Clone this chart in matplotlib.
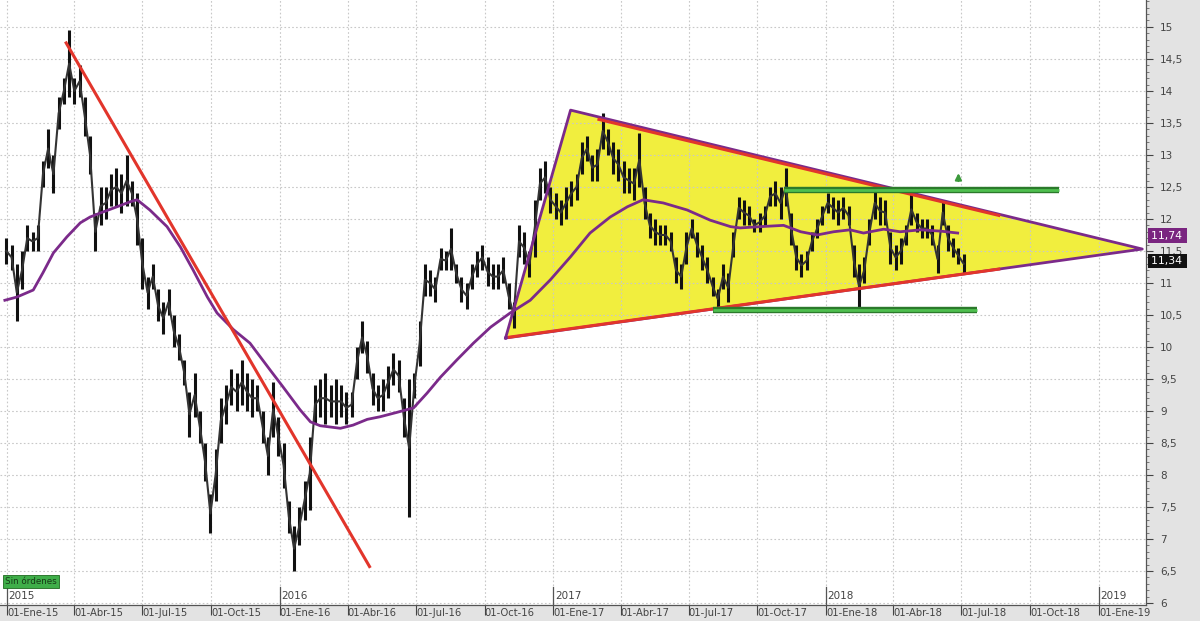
import numpy as np
import pandas as pd
import matplotlib
matplotlib.use('Agg')
import matplotlib.pyplot as plt
from matplotlib.ticker import MultipleLocator, FuncFormatter

# weekly price ranges (low / high), first week starts 29-Dec-2014
first_week = '2014-12-29'
week_lows = [11.3, 11.2, 10.4, 10.9, 11.5, 11.5, 11.5, 12.5, 12.8, 12.4,
             13.4, 13.8, 13.9, 13.8, 13.9, 13.3, 12.7, 11.5, 11.9, 12.0,
             12.2, 12.2, 12.1, 12.2, 12.2, 11.6, 10.9, 10.6, 10.9, 10.4,
             10.2, 10.5, 10.0, 9.8, 9.4, 8.6, 8.9, 8.5, 7.9, 7.1,
             7.6, 8.5, 8.8, 9.1, 9.0, 9.1, 9.0, 8.9, 9.0, 8.5,
             8.0, 8.6, 8.3, 7.8, 7.1, 6.5, 6.9, 7.3, 7.45, 8.8,
             8.9, 8.8, 8.9, 8.8, 8.9, 8.8, 8.9, 9.5, 9.9, 9.6,
             9.1, 9.0, 9.0, 9.2, 9.4, 9.3, 8.6, 7.35, 9.2, 9.7,
             10.8, 10.8, 10.7, 11.2, 11.2, 11.2, 11.0, 10.7, 10.6, 10.9,
             11.1, 11.2, 10.95, 10.9, 10.9, 11.0, 10.6, 10.3, 11.4, 11.3,
             11.1, 11.4, 12.3, 12.4, 12.1, 12.0, 11.9, 12.0, 12.2, 12.3,
             12.7, 12.9, 12.6, 12.6, 13.1, 13.0, 12.7, 12.6, 12.4, 12.4,
             12.3, 12.5, 12.0, 11.7, 11.6, 11.6, 11.6, 11.5, 11.0, 10.9,
             11.3, 11.7, 11.4, 11.2, 11.0, 10.8, 10.6, 10.9, 10.7, 11.4,
             12.0, 11.9, 11.9, 11.8, 11.8, 11.9, 12.2, 12.2, 12.0, 12.2,
             11.6, 11.2, 11.1, 11.2, 11.5, 11.7, 11.9, 12.1, 12.0, 11.9,
             12.0, 11.9, 11.1, 10.6, 11.0, 11.6, 12.0, 11.9, 11.9, 11.3,
             11.2, 11.3, 11.6, 11.9, 11.8, 11.7, 11.7, 11.6, 11.15, 11.9,
             11.5, 11.4, 11.3, 11.15]
week_highs = [11.7, 11.6, 11.3, 11.5, 11.9, 11.8, 11.9, 12.9, 13.4, 13.0,
              13.9, 14.2, 14.95, 14.2, 14.4, 13.9, 13.3, 12.1, 12.5, 12.5,
              12.7, 12.8, 12.7, 13.0, 12.6, 12.4, 11.7, 11.1, 11.3, 10.9,
              10.7, 10.9, 10.5, 10.2, 9.8, 9.3, 9.6, 9.0, 8.5, 7.7,
              8.4, 9.2, 9.4, 9.65, 9.6, 9.8, 9.6, 9.5, 9.4, 9.0,
              8.6, 9.45, 8.9, 8.5, 7.6, 7.2, 7.5, 7.9, 8.6, 9.4,
              9.5, 9.6, 9.4, 9.5, 9.4, 9.3, 9.3, 10.0, 10.4, 10.1,
              9.6, 9.4, 9.5, 9.7, 9.9, 9.8, 9.2, 9.5, 9.6, 10.4,
              11.3, 11.2, 11.1, 11.55, 11.5, 11.86, 11.3, 11.1, 11.0, 11.3,
              11.5, 11.6, 11.4, 11.3, 11.3, 11.4, 11.0, 10.7, 11.9, 11.8,
              11.5, 12.3, 12.8, 12.9, 12.5, 12.4, 12.3, 12.5, 12.6, 12.7,
              13.2, 13.3, 13.0, 13.1, 13.65, 13.4, 13.2, 13.1, 12.9, 12.8,
              12.8, 13.35, 12.5, 12.1, 12.0, 11.9, 11.9, 11.8, 11.4, 11.3,
              11.8, 12.0, 11.8, 11.6, 11.4, 11.1, 10.9, 11.3, 11.15, 11.8,
              12.35, 12.3, 12.2, 12.0, 12.1, 12.2, 12.5, 12.6, 12.5, 12.8,
              12.1, 11.6, 11.45, 11.5, 11.8, 12.0, 12.2, 12.4, 12.35, 12.3,
              12.35, 12.2, 11.6, 11.3, 11.4, 12.0, 12.5, 12.35, 12.3, 11.8,
              11.6, 11.7, 11.9, 12.4, 12.1, 12.0, 12.0, 11.9, 11.6, 12.3,
              11.9, 11.7, 11.55, 11.45]

# moving average
ma_dates = ['2014-12-29', '2015-01-14', '2015-02-05', '2015-02-18', '2015-03-04',
            '2015-03-22', '2015-04-09', '2015-04-22', '2015-05-05', '2015-05-28',
            '2015-06-15', '2015-06-24', '2015-07-11', '2015-08-03', '2015-08-21',
            '2015-09-07', '2015-09-26', '2015-10-09', '2015-10-31', '2015-11-22',
            '2015-12-19', '2016-01-05', '2016-01-28', '2016-02-11', '2016-02-24',
            '2016-03-22', '2016-04-08', '2016-04-27', '2016-05-14', '2016-06-06',
            '2016-06-28', '2016-07-16', '2016-08-03', '2016-08-25', '2016-09-16',
            '2016-10-09', '2016-10-22', '2016-11-04', '2016-12-01', '2016-12-28',
            '2017-01-24', '2017-02-19', '2017-03-18', '2017-04-10', '2017-05-01',
            '2017-05-28', '2017-06-29', '2017-07-30', '2017-08-26', '2017-09-08',
            '2017-10-05', '2017-11-05', '2017-11-28', '2017-12-20', '2018-01-11',
            '2018-02-02', '2018-02-20', '2018-03-19', '2018-04-10', '2018-05-07',
            '2018-06-03', '2018-06-26']
ma_values = [10.73, 10.78, 10.89, 11.16, 11.47, 11.72, 11.94, 12.03, 12.09, 12.19,
             12.27, 12.30, 12.14, 11.88, 11.56, 11.20, 10.78, 10.53, 10.27, 10.06,
             9.64, 9.38, 9.02, 8.83, 8.77, 8.73, 8.78, 8.87, 8.91, 8.98,
             9.05, 9.28, 9.53, 9.80, 10.06, 10.31, 10.42, 10.53, 10.73, 11.05,
             11.41, 11.78, 12.03, 12.19, 12.30, 12.25, 12.14, 11.98, 11.88, 11.86,
             11.88, 11.90, 11.80, 11.75, 11.80, 11.83, 11.78, 11.84, 11.80, 11.83,
             11.81, 11.78]

# drawn analysis objects
trend_dates = ['2015-03-20', '2016-05-01']
trend_prices = [14.77, 6.55]
tri_dates = ['2016-10-29', '2017-01-24', '2019-02-28']
tri_prices = [10.14, 13.70, 11.53]
upper_red_dates = ['2017-03-01', '2018-08-22']
upper_red_prices = [13.56, 12.05]
lower_red_dates = ['2016-11-01', '2018-08-22']
lower_red_prices = [10.15, 11.22]
resist_dates = ['2017-11-05', '2018-11-08']
resist_price = 12.45
support_dates = ['2017-08-03', '2018-07-22']
support_price = 10.58
arrow_date = '2018-06-27'
arrow_prices = [12.55, 12.76]

quarter_dates = ['2015-01-01', '2015-04-01', '2015-07-01', '2015-10-01',
                 '2016-01-01', '2016-04-01', '2016-07-01', '2016-10-01',
                 '2017-01-01', '2017-04-01', '2017-07-01', '2017-10-01',
                 '2018-01-01', '2018-04-01', '2018-07-01', '2018-10-01',
                 '2019-01-01']
quarter_labels = ['01-Ene-15', '01-Abr-15', '01-Jul-15', '01-Oct-15',
                  '01-Ene-16', '01-Abr-16', '01-Jul-16', '01-Oct-16',
                  '01-Ene-17', '01-Abr-17', '01-Jul-17', '01-Oct-17',
                  '01-Ene-18', '01-Abr-18', '01-Jul-18', '01-Oct-18',
                  '01-Ene-19']
year_dates = ['2015-01-01', '2016-01-01', '2017-01-01', '2018-01-01', '2019-01-01']
year_labels = ['2015', '2016', '2017', '2018', '2019']
last_ma = 11.74
last_close = 11.34

week_dates = pd.date_range(first_week, periods=len(week_lows), freq='7D') + pd.Timedelta(days=2)
lows = np.array(week_lows)
highs = np.array(week_highs)
to_dt = pd.to_datetime

fig = plt.figure(figsize=(12, 6.21), dpi=100, facecolor='#e3e3e3')
ax = fig.add_axes([0, 16 / 621, 1146 / 1200, 605 / 621])
ax.set_facecolor('white')

# triangle
ax.fill(to_dt(tri_dates), tri_prices, facecolor='#f1ee3e', edgecolor='none', zorder=1)
ax.plot(to_dt(tri_dates + tri_dates[:1]), tri_prices + tri_prices[:1],
        color='#7b2a8a', lw=2, zorder=5)

# price bars
ax.vlines(week_dates, lows, highs, color='#111111', lw=2.2, zorder=3)
ax.plot(week_dates, (lows + highs) / 2, color='#333333', lw=1.5, zorder=3)

# moving average
ax.plot(to_dt(ma_dates), ma_values, color='#7b2a8a', lw=2, zorder=4)

# red trend lines
for d, p in [(trend_dates, trend_prices), (upper_red_dates, upper_red_prices),
             (lower_red_dates, lower_red_prices)]:
    ax.plot(to_dt(d), p, color='#e2352b', lw=2.2, zorder=6, solid_capstyle='butt')

# green levels
for d, p in [(resist_dates, resist_price), (support_dates, support_price)]:
    ax.plot(to_dt(d), [p, p], color='#2b7a2b', lw=4.6, zorder=6, solid_capstyle='butt')
    ax.plot(to_dt(d), [p, p], color='#4fbf4f', lw=2.0, zorder=7, solid_capstyle='butt')
ax.annotate('', xy=(to_dt(arrow_date), arrow_prices[1]),
            xytext=(to_dt(arrow_date), arrow_prices[0]),
            arrowprops=dict(arrowstyle='-|>', color='#3c9a3c', lw=1.6, mutation_scale=9),
            zorder=7)

ax.set_xlim(to_dt('2014-12-22 12:00'), to_dt('2019-03-05'))
ax.set_ylim(5.97, 15.42)

# axes styling
for s in ['top', 'left']:
    ax.spines[s].set_visible(False)
for s in ['right', 'bottom']:
    ax.spines[s].set_color('#555555')
    ax.spines[s].set_linewidth(0.9)

ax.yaxis.tick_right()
ax.yaxis.set_major_locator(MultipleLocator(0.5))
ax.yaxis.set_minor_locator(MultipleLocator(0.1))
ax.yaxis.set_major_formatter(FuncFormatter(lambda v, p: f'{v:g}'.replace('.', ',')))
ax.tick_params(axis='y', which='major', length=5, pad=5, labelsize=7.5,
               colors='#444444')
ax.tick_params(axis='y', which='minor', length=2.5, colors='#666666')

ax.set_xticks(to_dt(quarter_dates))
ax.set_xticklabels(quarter_labels)
for lab in ax.get_xticklabels():
    lab.set_horizontalalignment('left')
ax.tick_params(axis='x', length=7, pad=-5, labelsize=7.2, colors='#444444')

ax.grid(which='major', color='#c8c8c8', linestyle=(0, (1.5, 2)), lw=0.8, zorder=0)

for d, lab in zip(year_dates, year_labels):
    ax.axvline(to_dt(d), ymin=0, ymax=0.03, color='#555555', lw=0.9)
    ax.text(to_dt(d) + pd.Timedelta(days=2), 6.03, lab, fontsize=7.5,
            color='#444444', ha='left', va='bottom')

ax.text(0.0045, 0.039, 'Sin órdenes', transform=ax.transAxes, fontsize=6.3,
        color='#173a17', ha='left', va='center',
        bbox=dict(boxstyle='square,pad=0.25', facecolor='#3fae49', edgecolor='#1f6a1f', lw=0.6))

for val, col in [(last_ma, '#7a2580'), (last_close, '#111111')]:
    ax.annotate(f'{val:.2f}'.replace('.', ',') + ' ', xy=(1.004, val),
                xycoords=('axes fraction', 'data'), fontsize=7.8, color='white',
                ha='left', va='center', annotation_clip=False, zorder=10,
                bbox=dict(boxstyle='square,pad=0.2', facecolor=col, edgecolor='none'))

fig.savefig('out.png', dpi=100, facecolor=fig.get_facecolor())
